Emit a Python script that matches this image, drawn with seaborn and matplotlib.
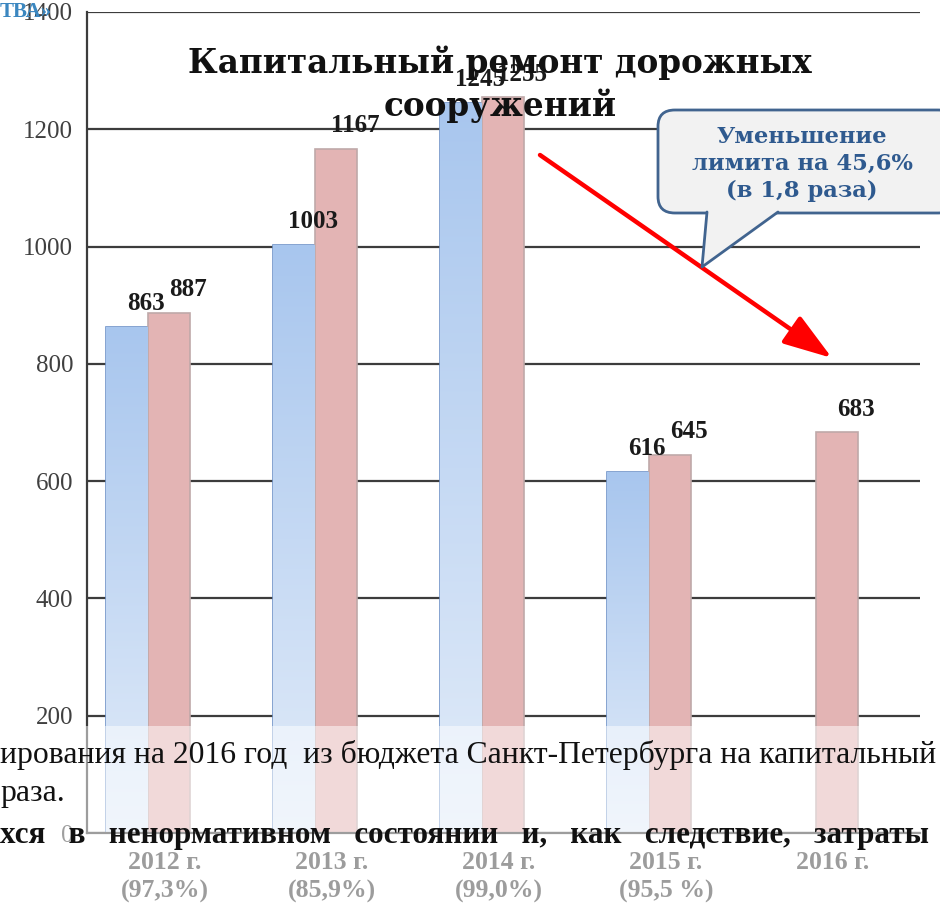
import numpy as np
import pandas as pd
import matplotlib
matplotlib.use("Agg")
import matplotlib.pyplot as plt
import matplotlib.transforms as mtransforms
from matplotlib.patches import FancyBboxPatch, Polygon, Rectangle
from matplotlib.lines import Line2D
from matplotlib.colors import LinearSegmentedColormap
import seaborn as sns

# data
years = ["2012 г.", "2013 г.", "2014 г.", "2015 г.", "2016 г."]
shares = ["(97,3%)", "(85,9%)", "(99,0%)", "(95,5 %)", ""]
series_names = ["Исполнено", "Лимит"]
spent = [863, 1003, 1245, 616, np.nan]
limit = [887, 1167, 1255, 645, 683]

title = "Капитальный ремонт дорожных\nсооружений"
callout = "Уменьшение\nлимита на 45,6%\n(в 1,8 раза)"
corner_text = "ТВА»"
body_line1 = "ирования на 2016 год  из бюджета Санкт-Петербурга на капитальный"
body_line2 = "раза."
body_line3 = "хся   в   ненормативном   состоянии   и,   как   следствие,   затраты"

df = pd.DataFrame({
    "year": years * 2,
    "series": [series_names[0]] * 5 + [series_names[1]] * 5,
    "value": spent + limit,
}).dropna()

sns.set_style("white")
plt.rcParams["font.family"] = ["Liberation Serif", "DejaVu Serif"]

W, H = 940, 909
fig = plt.figure(figsize=(W / 100, H / 100), dpi=100)


def fx(x):
    return x / W


def fy(y):
    return 1 - y / H


ax = fig.add_axes([fx(87), fy(833), fx(920) - fx(87), fy(12) - fy(833)])

blue = "#a9c7ee"
red = "#e3b4b4"
sns.barplot(data=df, x="year", y="value", hue="series", order=years,
            hue_order=series_names, palette=[blue, red], width=0.5,
            saturation=1, legend=False, ax=ax)

ax.set_xlabel("")
ax.set_ylabel("")

# gradient fill on the blue bars, flat fill on the red ones
cmap = LinearSegmentedColormap.from_list("bl", ["#e2ecf9", "#a8c6ee"])
grad = np.linspace(0, 1, 256).reshape(-1, 1)
for bar in ax.containers[0]:
    x0, w, h = bar.get_x(), bar.get_width(), bar.get_height()
    im = ax.imshow(grad, cmap=cmap, origin="lower", aspect="auto",
                   extent=[x0, x0 + w, 0, h], zorder=bar.get_zorder())
    im.set_clip_path(bar)
    bar.set_edgecolor("#7194c8")
    bar.set_linewidth(1.2)
for bar in ax.containers[1]:
    bar.set_edgecolor("#bfa9a9")
    bar.set_linewidth(1.2)
ax.set_xlim(-0.365, 4.623)
ax.set_ylim(0, 1400)
ax.set_yticks(range(0, 1401, 200))

# value labels
for cont in ax.containers:
    for bar in cont:
        h = bar.get_height()
        ax.annotate(f"{h:.0f}", (bar.get_x() + bar.get_width() / 2, h),
                    xytext=(19, 23), textcoords="offset pixels",
                    ha="center", va="center", fontsize=18, fontweight="bold",
                    color="#1a1a1a", zorder=4)

ax.yaxis.grid(True, color="#3c3c3c", linewidth=1.6)
ax.set_axisbelow(True)
for side in ["top", "right"]:
    ax.spines[side].set_visible(False)
for side in ["left", "bottom"]:
    ax.spines[side].set_color("#3c3c3c")
    ax.spines[side].set_linewidth(1.6)

ax.tick_params(axis="y", length=7, width=1.4, color="#3c3c3c", pad=3,
               labelsize=18, labelcolor="#404040")
ax.set_xticks(range(len(years)))
ax.set_xticklabels([f"{y}\n{s}" if s else y for y, s in zip(years, shares)],
                   fontsize=18.5, fontweight="bold", color="#3a3a3a",
                   linespacing=1.3, va="top")
ax.tick_params(axis="x", length=0, pad=13)
shift = mtransforms.ScaledTranslation(17 / 100, 0, fig.dpi_scale_trans)
for lab in ax.get_xticklabels():
    lab.set_transform(lab.get_transform() + shift)

# title
fig.text(fx(500), fy(84), title, ha="center", va="center", fontsize=23.5,
         fontweight="bold", family="DejaVu Serif", color="#111111",
         linespacing=1.3, zorder=6)

# red arrow
ax.annotate("", xy=(fx(832), fy(358)), xytext=(fx(540), fy(155)),
            xycoords="figure fraction", textcoords="figure fraction",
            arrowprops=dict(arrowstyle="-|>,head_length=1.5,head_width=0.5",
                            color="#ff0000", lw=3.2, shrinkA=0, shrinkB=0,
                            mutation_scale=20),
            zorder=6)

# callout box with tail
edge_c = "#41648f"
box = FancyBboxPatch((fx(658), fy(213)), fx(955) - fx(658), fy(110) - fy(213),
                     boxstyle="round,pad=0,rounding_size=0.018",
                     transform=fig.transFigure, facecolor="#f2f2f2",
                     edgecolor=edge_c, linewidth=2, zorder=7)
fig.add_artist(box)
tail = Polygon([(fx(707), fy(206)), (fx(707), fy(213)), (fx(702), fy(267)),
                (fx(778), fy(213)), (fx(778), fy(206))],
               closed=True, transform=fig.transFigure, facecolor="#f2f2f2",
               edgecolor="none", zorder=8)
fig.add_artist(tail)
fig.add_artist(Line2D([fx(707), fx(702), fx(778)], [fy(212), fy(267), fy(212)],
                      transform=fig.transFigure, color=edge_c, linewidth=2,
                      zorder=9))
fig.text(fx(802), fy(164), callout, ha="center", va="center", fontsize=16.3,
         fontweight="bold", family="DejaVu Serif", color="#2f5a8f",
         linespacing=1.3, zorder=10)

fig.text(fx(0), fy(12), corner_text, ha="left", va="center", fontsize=15,
         fontweight="bold", color="#3b87c0", zorder=10)

# semi-transparent slide panel over the lower part
fig.add_artist(Rectangle((0, 0), 1, fy(726), transform=fig.transFigure,
                         facecolor="white", alpha=0.5, edgecolor="none",
                         zorder=11))
fig.text(fx(0), fy(755), body_line1, ha="left", va="center", fontsize=22.8,
         color="#111111", zorder=12)
fig.text(fx(0), fy(794), body_line2, ha="left", va="center", fontsize=22.8,
         color="#111111", zorder=12)
fig.text(fx(0), fy(835), body_line3, ha="left", va="center", fontsize=22.4,
         fontweight="bold", color="#111111", zorder=12)

fig.savefig("out.png", dpi=100)
